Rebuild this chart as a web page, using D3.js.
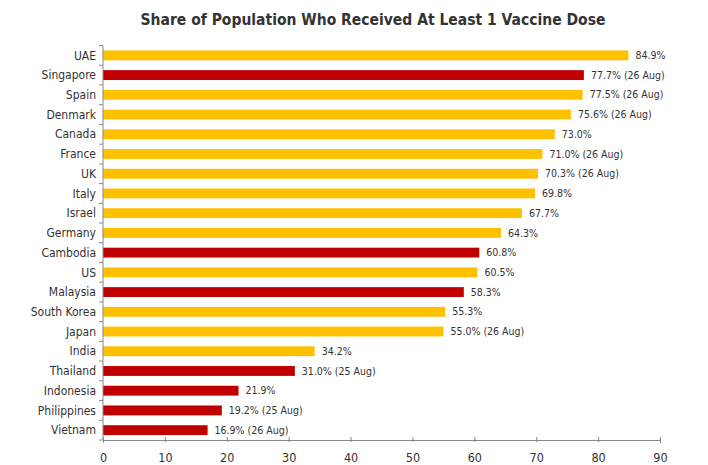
<!DOCTYPE html>
<html>
<head>
<meta charset="utf-8">
<script src="https://cdn.jsdelivr.net/npm/d3@7"></script>
<style>
  body { margin: 0; background: #fff; }
  text { font-family: "DejaVu Sans Condensed", "DejaVu Sans", sans-serif; }
</style>
</head>
<body>
<div id="chartEl"></div>
<script>
const countries = ['UAE', 'Singapore', 'Spain', 'Denmark', 'Canada', 'France', 'UK', 'Italy', 'Israel', 'Germany',
  'Cambodia', 'US', 'Malaysia', 'South Korea', 'Japan', 'India', 'Thailand', 'Indonesia', 'Philippines', 'Vietnam'];
const values = [84.9, 77.7, 77.5, 75.6, 73.0, 71.0, 70.3, 69.8, 67.7, 64.3,
  60.8, 60.5, 58.3, 55.3, 55.0, 34.2, 31.0, 21.9, 19.2, 16.9];
const notes = ['', '26 Aug', '26 Aug', '26 Aug', '', '26 Aug', '26 Aug', '', '', '',
  '', '', '', '', '26 Aug', '', '25 Aug', '', '25 Aug', '26 Aug'];
const asean = ['Singapore', 'Cambodia', 'Malaysia', 'Thailand', 'Indonesia', 'Philippines', 'Vietnam'];
const xTicks = [0, 10, 20, 30, 40, 50, 60, 70, 80, 90];

const width = 708;
const height = 465;
const margin = {top: 45.5, right: 48, bottom: 25, left: 103};

const data = countries.map((c, i) => ({country: c, value: values[i], note: notes[i]}));

const svg = d3.select('#chartEl').append('svg')
  .attr('width', width)
  .attr('height', height);

const x = d3.scaleLinear()
  .domain([0, 90])
  .range([margin.left, width - margin.right]);

const y = d3.scaleBand()
  .domain(countries)
  .range([margin.top, height - margin.bottom])
  .paddingInner(0.5)
  .paddingOuter(0.25);

svg.append('text')
  .attr('x', 373)
  .attr('y', 25)
  .attr('text-anchor', 'middle')
  .attr('font-size', 15.5)
  .attr('font-weight', 'bold')
  .attr('fill', '#333')
  .text('Share of Population Who Received At Least 1 Vaccine Dose');

svg.selectAll('.bar')
  .data(data)
  .enter().append('rect')
  .attr('class', 'bar')
  .attr('x', x(0))
  .attr('y', d => y(d.country))
  .attr('width', d => x(d.value) - x(0))
  .attr('height', y.bandwidth())
  .attr('fill', d => asean.includes(d.country) ? '#C00000' : '#FFC000');

svg.selectAll('.lbl')
  .data(data)
  .enter().append('text')
  .attr('class', 'lbl')
  .attr('x', d => x(d.value) + 7)
  .attr('y', d => y(d.country) + y.bandwidth() / 2)
  .attr('dy', '0.35em')
  .attr('font-size', 10.5)
  .attr('fill', '#333')
  .text(d => d.value.toFixed(1) + '%' + (d.note ? ' (' + d.note + ')' : ''));

const xAxis = svg.append('g')
  .attr('transform', 'translate(0,' + (height - margin.bottom) + ')')
  .call(d3.axisBottom(x).tickValues(xTicks).tickSize(3).tickPadding(10));
xAxis.selectAll('.tick line').attr('y1', -3).attr('y2', 2).attr('stroke', '#888');
xAxis.select('.domain').attr('stroke', '#888');
xAxis.selectAll('.tick text')
  .attr('font-size', 12.5)
  .attr('fill', '#333')
  .style('font-family', '"DejaVu Sans Condensed", "DejaVu Sans", sans-serif');

// y axis: ticks at band boundaries, labels centred on bands
const step = y.step();
const bounds = countries.map(c => y(c) - (step - y.bandwidth()) / 2).concat([height - margin.bottom]);
const yAxis = svg.append('g');
yAxis.append('line')
  .attr('x1', x(0)).attr('x2', x(0))
  .attr('y1', bounds[0]).attr('y2', height - margin.bottom)
  .attr('stroke', '#888');
yAxis.selectAll('.yt')
  .data(bounds)
  .enter().append('line')
  .attr('class', 'yt')
  .attr('x1', x(0) - 4).attr('x2', x(0))
  .attr('y1', d => d).attr('y2', d => d)
  .attr('stroke', '#888');
yAxis.selectAll('.yl')
  .data(countries)
  .enter().append('text')
  .attr('class', 'yl')
  .attr('x', x(0) - 7)
  .attr('y', d => y(d) + y.bandwidth() / 2)
  .attr('dy', '0.35em')
  .attr('text-anchor', 'end')
  .attr('font-size', 12)
  .attr('fill', '#333')
  .text(d => d);
</script>
</body>
</html>
